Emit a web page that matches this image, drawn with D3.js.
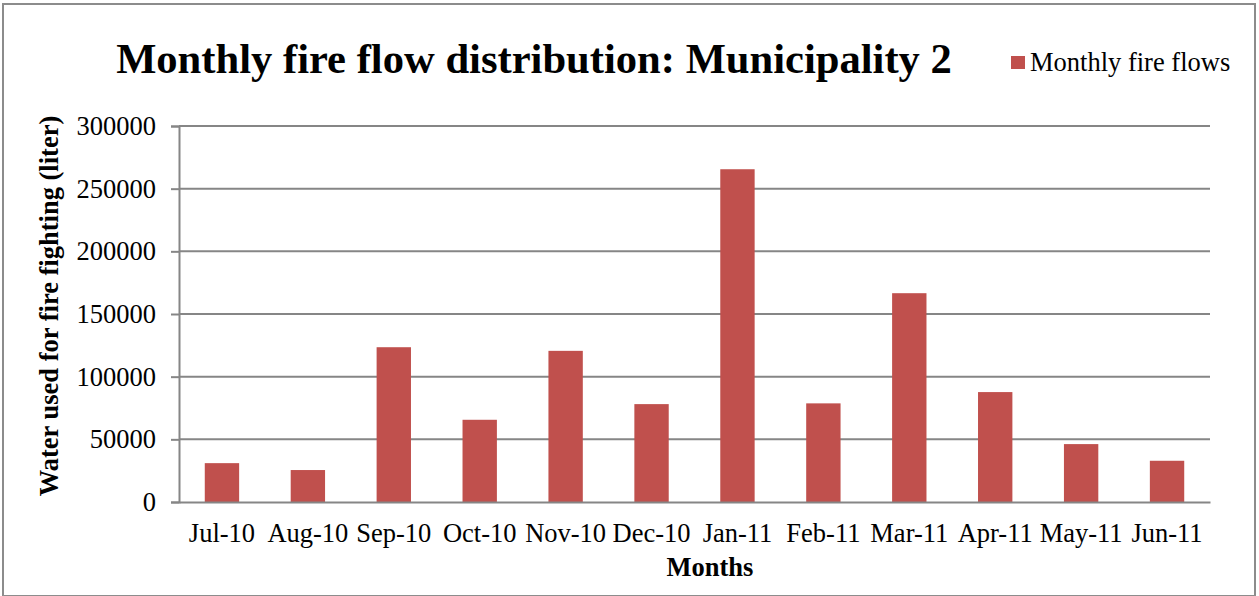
<!DOCTYPE html>
<html>
<head>
<meta charset="utf-8">
<script src="https://cdn.jsdelivr.net/npm/d3@7"></script>
<style>
  html, body { margin: 0; padding: 0; background: #fff; }
  svg { display: block; }
  text { font-family: "Liberation Serif", "Times New Roman", serif; fill: #000; }
</style>
</head>
<body>
<svg id="chart" width="1259" height="596"></svg>
<script>
// Monthly fire flow volumes (liters), July 2010 – June 2011
const months = ["Jul-10", "Aug-10", "Sep-10", "Oct-10", "Nov-10", "Dec-10",
                "Jan-11", "Feb-11", "Mar-11", "Apr-11", "May-11", "Jun-11"];
const fireFlows = [31000, 25500, 123500, 65600, 120600, 78100,
                   265500, 78700, 166600, 87700, 46200, 32900];
const yTicks = [0, 50000, 100000, 150000, 200000, 250000, 300000];

const titleText = "Monthly fire flow distribution: Municipality 2";
const legendText = "Monthly fire flows";
const xTitle = "Months";
const yTitle = "Water used for fire fighting (liter)";

const W = 1259, H = 596;
const margin = { left: 179, right: 49, top: 126, bottom: 94 };
const plotW = W - margin.left - margin.right;
const plotH = H - margin.top - margin.bottom;
const barColor = "#C0504D";
const gridColor = "#868686";
const labelSize = 26.5;

const svg = d3.select("#chart");

// outer chart frame
svg.append("rect")
  .attr("x", 3).attr("y", 4)
  .attr("width", W - 7).attr("height", H - 4)
  .attr("fill", "#fff")
  .attr("stroke", "#8c8c8c").attr("stroke-width", 2);

const x = d3.scaleBand()
  .domain(months)
  .range([0, plotW])
  .paddingInner(0.6)
  .paddingOuter(0.3);

const y = d3.scaleLinear()
  .domain([0, 300000])
  .range([plotH, 0]);

const g = svg.append("g")
  .attr("transform", `translate(${margin.left},${margin.top})`);

// horizontal gridlines
g.append("g")
  .selectAll("line")
  .data(yTicks.filter(d => d > 0))
  .join("line")
  .attr("x1", 0).attr("x2", plotW)
  .attr("y1", d => y(d)).attr("y2", d => y(d))
  .attr("stroke", gridColor).attr("stroke-width", 2);

// bars
g.append("g")
  .selectAll("rect")
  .data(fireFlows)
  .join("rect")
  .attr("x", (d, i) => x(months[i]))
  .attr("width", x.bandwidth())
  .attr("y", d => y(d))
  .attr("height", d => plotH - y(d))
  .attr("fill", barColor);

// y axis
const yAxis = g.append("g")
  .call(d3.axisLeft(y).tickValues(yTicks).tickFormat(d3.format("d")).tickSize(8).tickPadding(15));
yAxis.select(".domain").attr("stroke", gridColor).attr("stroke-width", 2);
yAxis.selectAll(".tick line").attr("stroke", gridColor).attr("stroke-width", 2);
yAxis.selectAll(".tick text")
  .attr("font-size", labelSize)
  .attr("font-family", "Liberation Serif, serif")
  .attr("fill", "#000");

// x axis
const xAxis = g.append("g")
  .attr("transform", `translate(0,${plotH})`)
  .call(d3.axisBottom(x).tickSize(0).tickPadding(21));
xAxis.select(".domain").attr("stroke", gridColor).attr("stroke-width", 2);
xAxis.selectAll(".tick text")
  .attr("font-size", labelSize)
  .attr("font-family", "Liberation Serif, serif")
  .attr("fill", "#000");

// axis titles
svg.append("text")
  .attr("x", 710)
  .attr("y", 576)
  .attr("text-anchor", "middle")
  .attr("font-size", labelSize)
  .attr("font-weight", "bold")
  .text(xTitle);

svg.append("text")
  .attr("transform", `translate(58,306) rotate(-90)`)
  .attr("text-anchor", "middle")
  .attr("font-size", labelSize)
  .attr("font-weight", "bold")
  .text(yTitle);

// chart title
svg.append("text")
  .attr("x", 534)
  .attr("y", 73)
  .attr("text-anchor", "middle")
  .attr("font-size", 42.6)
  .attr("font-weight", "bold")
  .text(titleText);

// legend
svg.append("rect")
  .attr("x", 1011).attr("y", 56)
  .attr("width", 14).attr("height", 13)
  .attr("fill", barColor);
svg.append("text")
  .attr("x", 1030).attr("y", 71)
  .attr("font-size", labelSize)
  .text(legendText);
</script>
</body>
</html>
